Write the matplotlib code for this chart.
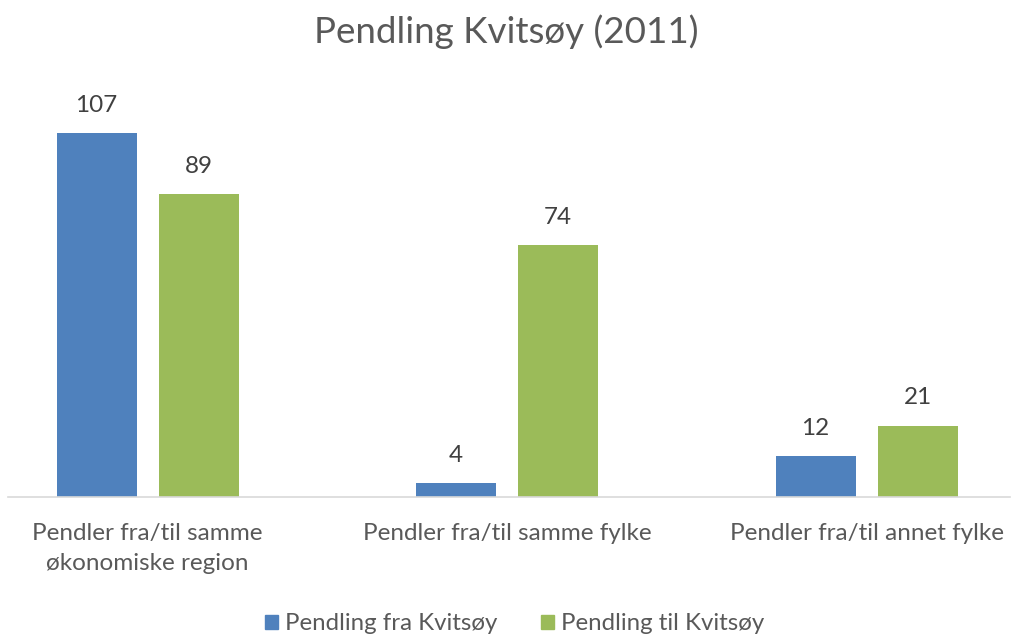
import matplotlib
matplotlib.use("Agg")
import matplotlib.pyplot as plt
from matplotlib.patches import Patch
import numpy as np

categories = ["Pendler fra/til samme\nøkonomiske region",
              "Pendler fra/til samme fylke",
              "Pendler fra/til annet fylke"]
series_names = ["Pendling fra Kvitsøy", "Pendling til Kvitsøy"]
fra_values = [107, 4, 12]
til_values = [89, 74, 21]
colors = ["#4F81BD", "#9BBB59"]
text_color = "#595959"

plt.rcParams['font.family'] = ['Lato', 'DejaVu Sans']

W, H = 1013, 638
fig = plt.figure(figsize=(W / 100, H / 100), dpi=100)
bottom_px = 497
scale = 3.402
ymax = 120
top_px = bottom_px - ymax * scale
ax = fig.add_axes([8 / W, (H - bottom_px) / H, (1010 - 8) / W, (bottom_px - top_px) / H])

x = np.arange(len(categories))
spacing = 359.5
bw = 80 / spacing
off = 51 / spacing
b1 = ax.bar(x - off, fra_values, bw, color=colors[0], label=series_names[0])
b2 = ax.bar(x + off, til_values, bw, color=colors[1], label=series_names[1])

for bars, vals in ((b1, fra_values), (b2, til_values)):
    for rect, v in zip(bars, vals):
        ax.annotate(str(v), (rect.get_x() + rect.get_width() / 2, v),
                    xytext=(0, 20), textcoords="offset points",
                    ha="center", va="center", fontsize=17.5, color="#404040")

ax.set_xlim((8 - 147.5) / spacing, (1010 - 147.5) / spacing)
ax.set_ylim(0, ymax)
ax.set_xticks(x)
ax.set_xticklabels(categories, fontsize=17.5, color=text_color, linespacing=1.5)
ax.tick_params(axis="x", length=0, pad=19)
ax.set_yticks([])
for s in ("top", "right", "left"):
    ax.spines[s].set_visible(False)
ax.spines["bottom"].set_color("#D9D9D9")
ax.spines["bottom"].set_linewidth(1.2)

fig.text(0.5, 1 - 32 / H, "Pendling Kvitsøy (2011)", ha="center", va="center",
         fontsize=26.5, color=text_color)

handles = [Patch(color=c, label=n) for c, n in zip(colors, series_names)]
fig.legend(handles=handles, loc="center", bbox_to_anchor=(0.508, 1 - 624 / H),
           ncol=2, frameon=False, fontsize=17.3, labelcolor=text_color,
           handlelength=0.55, handleheight=0.55, handletextpad=0.3, columnspacing=1.8)

fig.savefig("out.png", dpi=100, facecolor="white")
